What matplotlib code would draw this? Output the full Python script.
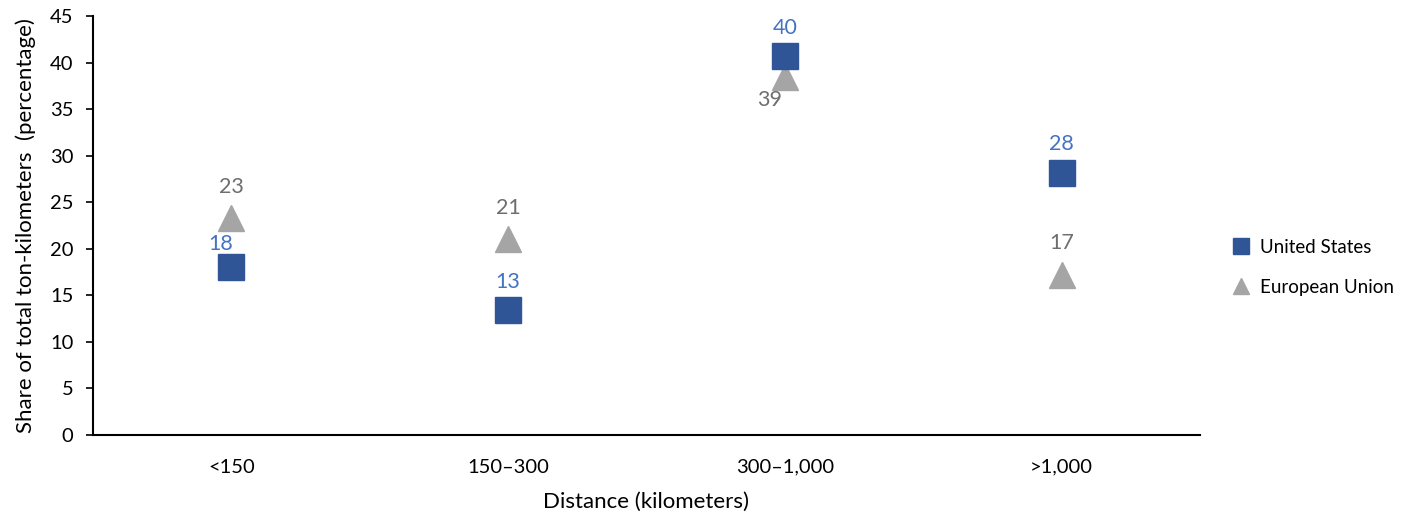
import matplotlib
matplotlib.use("Agg")
import matplotlib.pyplot as plt
from matplotlib.lines import Line2D

categories = ["<150", "150\u2013300", "300\u20131,000", ">1,000"]
us_values = [18.0, 13.4, 40.7, 28.1]
eu_values = [23.3, 21.1, 38.5, 17.2]
us_labels = ["18", "13", "40", "28"]
eu_labels = ["23", "21", "39", "17"]
yticks = [0, 5, 10, 15, 20, 25, 30, 35, 40, 45]

US_COLOR = "#2F5597"
US_TEXT = "#4472C4"
EU_COLOR = "#A5A5A5"
EU_TEXT = "#6E6E6E"

plt.rcParams['font.family'] = ['Lato', 'DejaVu Sans']

fig = plt.figure(figsize=(14.19, 5.14), dpi=100)
ax = fig.add_axes([0.0655, 0.1537, 0.7802, 0.8152])

xs = [i + 0.5 for i in range(len(categories))]
ax.plot(xs, us_values, linestyle="none", marker="s", markersize=18.5,
        color=US_COLOR, label="United States", zorder=3)
ax.plot(xs, eu_values, linestyle="none", marker="^", markersize=19,
        color=EU_COLOR, label="European Union", zorder=2)

us_off = [(-8, 17), (0, 20), (0, 20), (0, 21)]
eu_off = [(0, 22), (0, 22), (-11, -17), (0, 23)]
for x, v, lab, off in zip(xs, us_values, us_labels, us_off):
    ax.annotate(lab, (x, v), xytext=off, textcoords="offset points",
                ha="center", va="center", color=US_TEXT, fontsize=15.5)
for x, v, lab, off in zip(xs, eu_values, eu_labels, eu_off):
    ax.annotate(lab, (x, v), xytext=off, textcoords="offset points",
                ha="center", va="center", color=EU_TEXT, fontsize=15.5)

ax.set_xlim(0, len(categories))
ax.set_ylim(0, 45)
ax.set_yticks(yticks)
ax.set_xticks(xs)
ax.set_xticklabels(categories)
ax.tick_params(axis="x", length=0, pad=17, labelsize=14.5, colors="#000000")
ax.tick_params(axis="y", length=5, width=1.2, direction="out", labelsize=14.5, pad=9)
for s in ["top", "right"]:
    ax.spines[s].set_visible(False)
ax.spines["left"].set_linewidth(1.5)
ax.spines["bottom"].set_linewidth(1.5)

ax.set_xlabel("Distance (kilometers)", fontsize=16, labelpad=12)
ax.set_ylabel("Share of total ton-kilometers  (percentage)", fontsize=16, labelpad=10)

handles = [
    Line2D([], [], linestyle="none", marker="s", markersize=12, color=US_COLOR),
    Line2D([], [], linestyle="none", marker="^", markersize=12, color=EU_COLOR),
]
fig.legend(handles, ["United States", "European Union"], loc="center left",
           bbox_to_anchor=(0.856, 0.48), frameon=False, fontsize=13.5,
           handletextpad=0.5, labelspacing=1.2, handlelength=1.0)

fig.savefig("out.png", dpi=100)
